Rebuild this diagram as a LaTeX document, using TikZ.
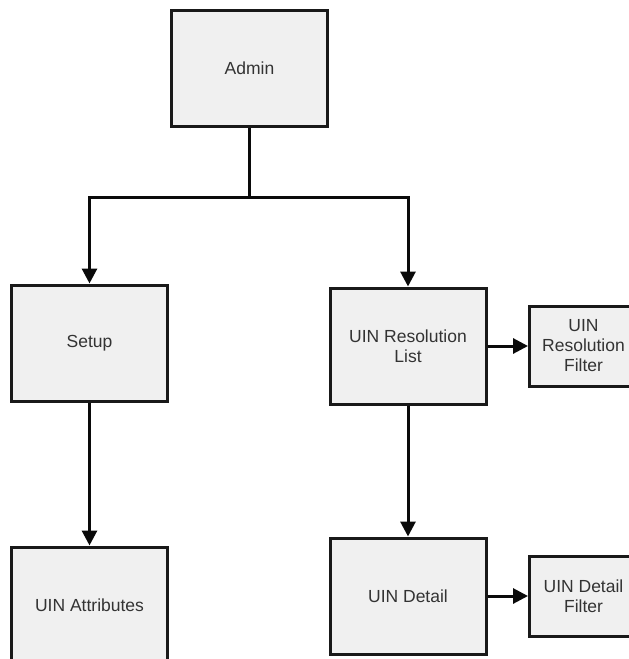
\documentclass[tikz,border=0pt]{standalone}
\usepackage{fontspec}
\setmainfont{Liberation Sans}
\usepackage{tikz}
\usetikzlibrary{
  arrows.meta,
  positioning
}
\definecolor{boxfill}{RGB}{240, 240, 240}
\definecolor{boxdraw}{RGB}{25, 25, 25}
\definecolor{labelcolor}{RGB}{51, 51, 51}
\definecolor{linecolor}{RGB}{10, 10, 10}
\tikzset{
blocktext/.style={
  align=center,
  font=\fontsize{17.5}{20}\selectfont,
  text=labelcolor
},
pageblock/.style={
  draw=boxdraw,
  fill=boxfill,
  line width=3pt,
  minimum width=156pt,
  minimum height=116pt,
  blocktext
},
filterblock/.style={
  pageblock,
  minimum width=108pt,
  minimum height=80pt
},
link/.style={
  line width=3pt,
  draw=linecolor
},
arrow/.style={
  link,
  -{Triangle[length=15pt,width=15pt]}
}
}

\begin{document}
\begin{tikzpicture}[x=1pt, y=-1pt]

\useasboundingbox (0, 0) rectangle (629, 659);
\clip (0, 0) rectangle (629, 659);

% ============================================================================
% TOPO
% ============================================================================
\node[pageblock] (admin) at (249.5, 68.5) {Admin};
\coordinate (split) at (249.5, 197);

% ============================================================================
% RAMO ESQUERDO
% ============================================================================
\node[pageblock] (setup) at (89.5, 343) {Setup};
\node[pageblock] (attrs) at (89.5, 605) {UIN Attributes};

% ============================================================================
% RAMO DIREITO
% ============================================================================
\node[pageblock] (reslist) at (408, 346) {UIN Resolution\\List};
\node[filterblock] (resfilter) at (583.5, 346) {UIN\\Resolution\\Filter};
\node[pageblock] (detail) at (408, 596) {UIN Detail};
\node[filterblock] (detailfilter) at (583.5, 596) {UIN Detail\\Filter};

% ============================================================================
% LIGACOES
% ============================================================================
\draw[link] (admin.south) -- (split);
\draw[arrow] (split) -| (setup);
\draw[arrow] (split) -| (reslist);
\draw[arrow] (setup) -- (attrs);
\draw[arrow] (reslist) -- (detail);
\draw[arrow] (reslist) -- (resfilter);
\draw[arrow] (detail) -- (detailfilter);

\end{tikzpicture}
\end{document}
